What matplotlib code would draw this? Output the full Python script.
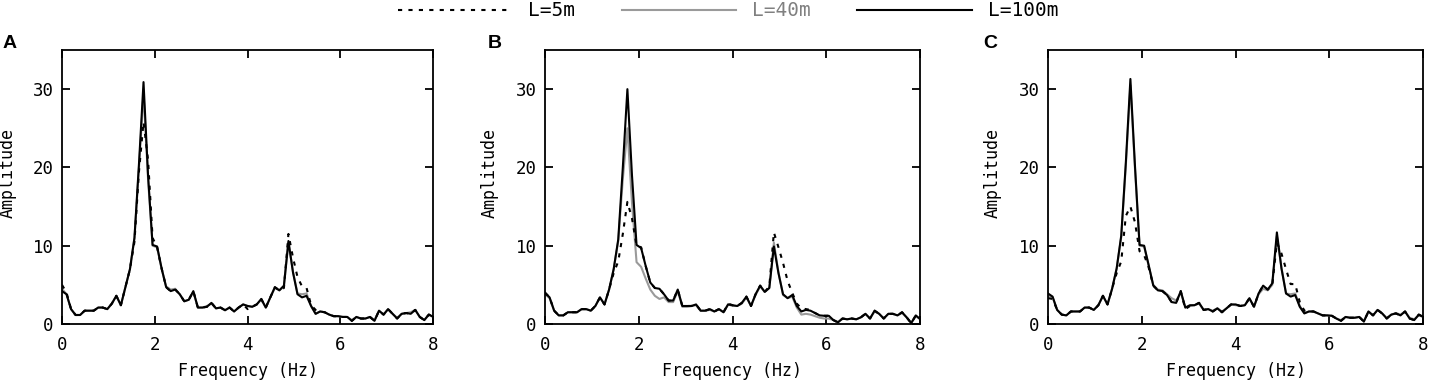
import matplotlib
matplotlib.use("Agg")
import matplotlib.pyplot as plt
import numpy as np

plt.rcParams['font.family'] = ['DejaVu Sans Mono']

# spectrum bins (100 Hz sampling, 1024 pt FFT)
n_bins = 83
freq = np.arange(n_bins) * 100 / 1024

# panel A
a100 = [4.2, 3.8, 1.9, 1.15, 1.15, 1.7, 1.7, 1.7, 2.1, 2.1,
        1.9, 2.6, 3.6, 2.4, 4.7, 7.0, 11.0, 20.5, 30.9, 19.0,
        10.1, 9.9, 7.1, 4.7, 4.2, 4.4, 3.8, 2.9, 3.1, 4.2,
        2.1, 2.1, 2.2, 2.7, 2.0, 2.1, 1.75, 2.1, 1.6, 2.1,
        2.5, 2.3, 2.2, 2.5, 3.2, 2.1, 3.4, 4.7, 4.3, 4.9,
        10.6, 6.6, 3.8, 3.4, 3.6, 2.3, 1.3, 1.6, 1.5, 1.2,
        1.0, 1.0, 0.9, 0.9, 0.4, 0.9, 0.7, 0.7, 0.9, 0.4,
        1.7, 1.2, 1.9, 1.3, 0.7, 1.3, 1.4, 1.3, 1.8, 0.9,
        0.5, 1.2, 0.9]
a40 = [4.5, 3.8, 1.9, 1.15, 1.15, 1.7, 1.7, 1.7, 2.1, 2.1,
       1.9, 2.6, 3.6, 2.4, 4.7, 7.0, 11.0, 20.0, 29.5, 18.5,
       10.0, 9.8, 7.0, 4.8, 4.4, 4.5, 3.8, 2.9, 3.1, 4.1,
       2.1, 2.1, 2.3, 2.6, 2.0, 2.1, 1.8, 2.1, 1.6, 2.1,
       2.5, 2.3, 2.2, 2.5, 3.1, 2.1, 3.4, 4.6, 4.3, 4.8,
       10.4, 6.7, 3.9, 3.8, 3.9, 2.3, 1.3, 1.6, 1.5, 1.2,
       1.0, 1.0, 0.9, 0.9, 0.5, 0.9, 0.7, 0.7, 0.9, 0.5,
       1.7, 1.2, 1.9, 1.3, 0.8, 1.3, 1.4, 1.5, 1.8, 0.9,
       0.5, 1.2, 0.9]
a5 = [5.0, 4.0, 1.9, 1.15, 1.15, 1.7, 1.7, 1.7, 2.1, 2.1,
      1.9, 2.6, 3.6, 2.4, 4.7, 7.0, 10.5, 19.5, 25.8, 21.0,
      11.0, 9.8, 7.1, 4.7, 4.2, 4.4, 3.8, 2.9, 3.1, 4.2,
      2.1, 2.1, 2.2, 2.7, 2.0, 2.1, 1.75, 2.1, 1.6, 2.1,
      2.5, 1.9, 2.2, 2.5, 3.2, 2.1, 3.4, 4.7, 4.3, 4.6,
      11.5, 8.5, 6.0, 4.8, 4.6, 2.4, 1.8, 1.6, 1.5, 1.2,
      1.0, 1.0, 0.9, 0.9, 0.4, 0.9, 0.7, 0.7, 0.9, 0.4,
      1.7, 1.2, 1.9, 1.3, 0.7, 1.3, 1.4, 1.3, 1.8, 0.9,
      0.5, 1.2, 0.9]

# panel B
b100 = [4.0, 3.4, 1.7, 1.1, 1.1, 1.5, 1.5, 1.5, 1.9, 1.9,
        1.7, 2.3, 3.4, 2.5, 4.4, 7.0, 10.8, 20.0, 30.0, 19.0,
        10.1, 9.7, 7.4, 5.3, 4.6, 4.5, 3.8, 3.0, 3.0, 4.4,
        2.3, 2.3, 2.3, 2.5, 1.7, 1.7, 1.9, 1.6, 1.9, 1.5,
        2.5, 2.4, 2.3, 2.7, 3.5, 2.3, 3.8, 4.9, 4.1, 4.6,
        9.9, 6.5, 3.8, 3.3, 3.7, 2.3, 1.6, 1.8, 1.7, 1.4,
        1.1, 1.05, 1.05, 0.5, 0.2, 0.7, 0.6, 0.7, 0.6, 0.85,
        1.3, 0.7, 1.7, 1.3, 0.7, 1.3, 1.3, 1.1, 1.5, 0.85,
        0.1, 1.1, 0.6]
b40 = [3.8, 3.3, 1.7, 1.1, 1.1, 1.5, 1.5, 1.5, 1.9, 1.9,
       1.7, 2.3, 3.4, 2.5, 4.4, 7.0, 10.6, 18.5, 25.0, 15.5,
       7.9, 7.3, 5.8, 4.4, 3.6, 3.2, 3.4, 2.8, 2.8, 4.2,
       2.2, 2.2, 2.3, 2.4, 1.7, 1.7, 1.8, 1.6, 1.9, 1.5,
       2.5, 2.3, 2.3, 2.6, 3.4, 2.3, 3.7, 4.8, 4.1, 4.6,
       10.4, 6.6, 3.7, 3.3, 3.5, 2.1, 1.2, 1.3, 1.2, 1.0,
       0.8, 0.7, 0.7, 0.5, 0.3, 0.7, 0.6, 0.7, 0.6, 0.85,
       1.3, 0.7, 1.6, 1.3, 0.7, 1.3, 1.3, 1.1, 1.4, 0.85,
       0.2, 1.0, 0.6]
b5 = [4.0, 3.4, 1.7, 1.1, 1.1, 1.5, 1.5, 1.5, 1.9, 1.9,
      1.7, 2.3, 3.4, 2.5, 4.4, 6.5, 8.0, 11.5, 15.6, 13.5,
      10.0, 9.8, 7.4, 5.3, 4.6, 4.5, 3.8, 3.0, 3.0, 4.4,
      2.3, 2.3, 2.3, 2.5, 1.7, 1.7, 1.9, 1.6, 1.9, 1.5,
      2.6, 2.4, 2.3, 2.7, 3.5, 2.3, 3.8, 4.9, 4.1, 4.8,
      11.7, 9.8, 7.8, 5.5, 4.0, 2.6, 2.0, 1.9, 1.8, 1.4,
      1.1, 1.05, 1.05, 0.5, 0.2, 0.7, 0.6, 0.7, 0.6, 0.85,
      1.3, 0.7, 1.7, 1.3, 0.7, 1.3, 1.3, 1.1, 1.5, 0.85,
      0.1, 1.1, 0.6]

# panel C
c100 = [3.9, 3.5, 1.8, 1.2, 1.1, 1.6, 1.6, 1.6, 2.1, 2.1,
        1.8, 2.4, 3.6, 2.5, 4.5, 7.1, 11.3, 20.6, 31.3, 20.2,
        10.1, 10.0, 7.5, 4.9, 4.3, 4.2, 3.7, 2.8, 2.7, 4.2,
        2.1, 2.4, 2.4, 2.7, 1.8, 1.9, 1.6, 2.0, 1.5, 2.0,
        2.5, 2.5, 2.3, 2.4, 3.3, 2.2, 3.9, 4.9, 4.4, 5.2,
        11.7, 7.1, 3.9, 3.5, 3.7, 2.2, 1.35, 1.6, 1.6, 1.35,
        1.1, 1.1, 1.05, 0.7, 0.4, 0.9, 0.8, 0.8, 0.9, 0.3,
        1.6, 1.1, 1.8, 1.35, 0.7, 1.2, 1.35, 1.1, 1.6, 0.7,
        0.5, 1.2, 0.9]
c40 = [3.6, 3.4, 1.8, 1.2, 1.1, 1.6, 1.6, 1.6, 2.1, 2.1,
       1.8, 2.4, 3.6, 2.5, 4.5, 7.1, 11.1, 20.2, 30.5, 19.8,
       10.0, 9.9, 7.4, 5.0, 4.4, 4.3, 3.8, 3.3, 3.0, 4.0,
       2.1, 2.3, 2.4, 2.6, 1.8, 1.9, 1.7, 2.0, 1.6, 2.0,
       2.5, 2.4, 2.3, 2.4, 3.2, 2.2, 3.8, 4.5, 4.3, 5.0,
       11.2, 7.2, 3.9, 3.8, 3.9, 2.3, 1.4, 1.6, 1.6, 1.35,
       1.1, 1.1, 1.05, 0.7, 0.5, 0.9, 0.8, 0.8, 0.9, 0.4,
       1.6, 1.1, 1.8, 1.35, 0.8, 1.2, 1.4, 1.2, 1.6, 0.8,
       0.6, 1.1, 0.9]
c5 = [3.3, 3.2, 1.8, 1.2, 1.1, 1.6, 1.6, 1.6, 2.1, 2.1,
      1.8, 2.4, 3.6, 2.5, 4.5, 6.5, 8.0, 13.8, 15.0, 13.0,
      9.3, 8.8, 7.2, 4.9, 4.3, 4.2, 3.7, 2.8, 2.7, 4.2,
      1.9, 2.3, 2.4, 2.7, 1.8, 1.9, 1.6, 2.0, 1.5, 2.0,
      2.5, 2.5, 2.3, 2.4, 3.3, 2.2, 3.9, 4.9, 4.4, 5.0,
      10.4, 9.0, 7.0, 5.1, 5.1, 2.8, 1.7, 1.6, 1.6, 1.35,
      1.1, 1.1, 1.05, 0.7, 0.4, 0.9, 0.8, 0.8, 0.9, 0.3,
      1.6, 1.1, 1.8, 1.35, 0.7, 1.2, 1.35, 1.1, 1.6, 0.7,
      0.5, 1.2, 0.9]

panel_letters = ["A", "B", "C"]
series_5 = [a5, b5, c5]
series_40 = [a40, b40, c40]
series_100 = [a100, b100, c100]
legend_labels = ["L=5m", "L=40m", "L=100m"]

W, H = 1430, 383
fig = plt.figure(figsize=(W / 100, H / 100), dpi=100)

boxes = [(62, 433), (545, 920), (1048, 1423)]   # left/right px
letter_x = [3, 488, 983]
top, bottom = 50, 324
GRAY = "#9a9a9a"

for i in range(3):
    left, right = boxes[i]
    ax = fig.add_axes([left / W, 1 - bottom / H, (right - left) / W, (bottom - top) / H])
    h40, = ax.plot(freq, series_40[i], color=GRAY, lw=1.5)
    h5, = ax.plot(freq, series_5[i], color="black", lw=1.5, ls=(0, (2, 3)))
    h100, = ax.plot(freq, series_100[i], color="black", lw=1.5)
    ax.set_xlim(0, 8)
    ax.set_ylim(0, 35)
    ax.set_xticks([0, 2, 4, 6, 8])
    ax.set_yticks([0, 10, 20, 30])
    ax.tick_params(direction="in", top=True, right=True, length=6, width=1.3,
                   labelsize=12.5, color="black")
    ax.tick_params(axis="x", pad=9)
    ax.tick_params(axis="y", pad=6)
    for sp in ax.spines.values():
        sp.set_linewidth(1.3)
    ax.set_xlabel("Frequency (Hz)", fontsize=12)
    ax.set_ylabel("Amplitude", fontsize=12)
    ax.xaxis.set_label_coords(0.5, -0.14)
    ax.yaxis.set_label_coords(-0.123, 0.55)
    fig.text(letter_x[i] / W, 1 - 47.5 / H, panel_letters[i], fontfamily="Liberation Sans",
             fontweight="bold", fontsize=14, va="baseline")

leg = fig.legend([h5, h40, h100], legend_labels, loc="center", ncol=3,
                 bbox_to_anchor=(0.509, 1 - 11 / H), frameon=False, fontsize=14,
                 handlelength=5.9, handletextpad=0.8, columnspacing=2.4, borderpad=0)
for txt, col in zip(leg.get_texts(), ["black", "#808080", "black"]):
    txt.set_color(col)

fig.savefig("out.png", dpi=100)
